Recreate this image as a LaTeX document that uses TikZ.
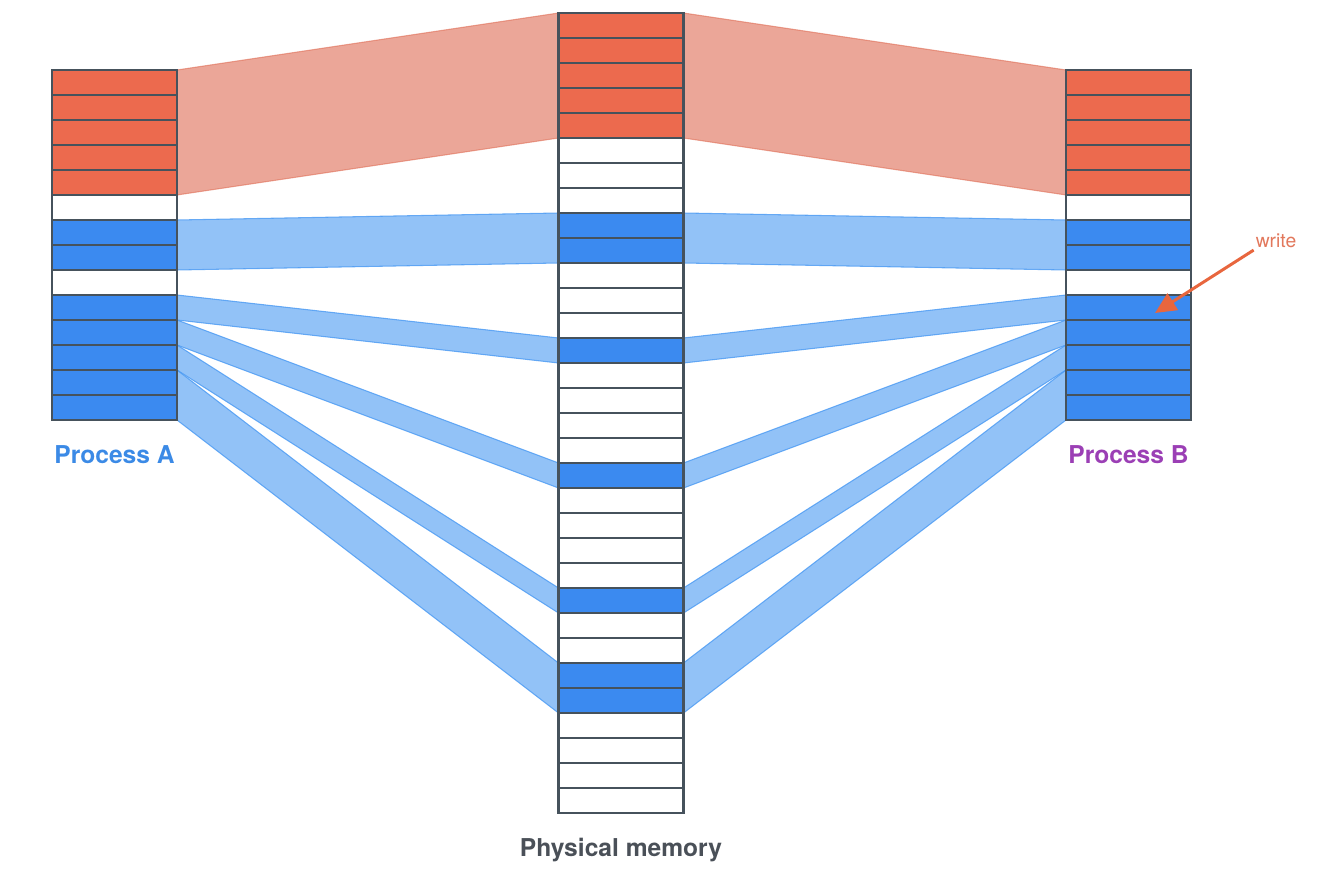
\documentclass[tikz,border=0pt]{standalone}
\usepackage{fontspec}
\setmainfont{TeX Gyre Heros}
\usetikzlibrary{positioning, backgrounds, arrows.meta}

\definecolor{cellred}{RGB}{236,106,78}
\definecolor{cellblue}{RGB}{59,138,240}
\definecolor{cellwhite}{RGB}{255,255,255}
\definecolor{cellborder}{RGB}{70,82,92}
\definecolor{bandblue}{RGB}{73,153,242}
\definecolor{bandred}{RGB}{222,107,83}
\definecolor{procA}{RGB}{59,138,230}
\definecolor{procB}{RGB}{155,63,181}
\definecolor{memtext}{RGB}{74,80,88}
\definecolor{writered}{RGB}{232,102,62}
\definecolor{writetext}{RGB}{226,120,92}

\begin{document}
\begin{tikzpicture}[
    x=0.02cm, y=-0.02cm,
    cell/.style={draw=cellborder, line width=1.2pt, minimum width=2.5cm, minimum height=0.5cm, inner sep=0pt, outer sep=0pt},
    blueband/.style={fill=bandblue, fill opacity=0.6, draw=bandblue, draw opacity=0.8, line width=0.6pt},
    redband/.style={fill=bandred, fill opacity=0.6, draw=bandred, draw opacity=0.6, line width=0.6pt},
    title/.style={font=\fontsize{14}{16}\selectfont\bfseries, inner sep=0pt},
    writearrow/.style={draw=writered, line width=1.7pt, -{Triangle[length=12pt,width=11pt]}}
]
\useasboundingbox (0,0) rectangle (1334,884);

% Process A and Process B pages
\foreach \c [count=\i from 0] in {red,red,red,red,red,white,blue,blue,white,blue,blue,blue,blue,blue} {
    \node[cell, fill=cell\c] (A\i) at (114.5,82.5+25*\i) {};
    \node[cell, fill=cell\c] (B\i) at (1128.5,82.5+25*\i) {};
}

% Physical memory frames
\foreach \c [count=\i from 0] in {red,red,red,red,red,white,white,white,blue,blue,white,white,white,blue,white,white,white,white,blue,white,white,white,white,blue,white,white,blue,blue,white,white,white,white}
    \node[cell, fill=cell\c] (M\i) at (621,25.5+25*\i) {};

% Mappings
\begin{scope}[on background layer]
    \draw[redband] (A0.north east) -- (M0.north west) -- (M4.south west) -- (A4.south east) -- cycle;
    \draw[redband] (B0.north west) -- (M0.north east) -- (M4.south east) -- (B4.south west) -- cycle;
    \foreach \a/\b/\m/\n in {6/7/8/9, 9/9/13/13, 10/10/18/18, 11/11/23/23, 12/13/26/27} {
        \draw[blueband] (A\a.north east) -- (M\m.north west) -- (M\n.south west) -- (A\b.south east) -- cycle;
        \draw[blueband] (B\a.north west) -- (M\m.north east) -- (M\n.south east) -- (B\b.south west) -- cycle;
    }
\end{scope}

% Labels
\node[title, text=procA, below=0.5cm of A13] (labelA) {Process A};
\node[title, text=procB, below=0.5cm of B13] (labelB) {Process B};
\node[title, text=memtext, below=0.5cm of M31] (labelM) {Physical memory};

% Write access
\node[font=\fontsize{11}{13}\selectfont, text=writetext, inner sep=1pt] (write) at (1276,241) {write};
\coordinate (writetip) at (1155,313);
\draw[writearrow] (write.south west) -- (writetip);

\end{tikzpicture}
\end{document}
